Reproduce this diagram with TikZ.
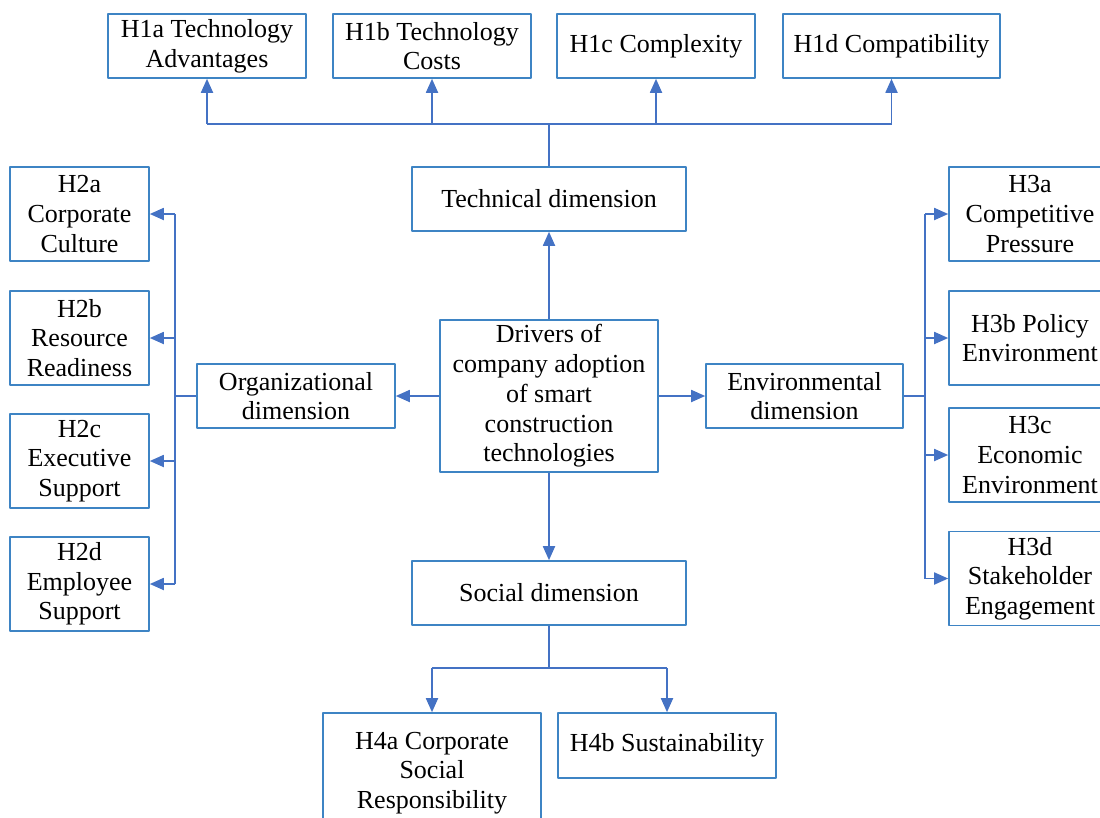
\documentclass[tikz,border=0pt]{standalone}
\usepackage{fontspec}
\setmainfont{Liberation Serif}
\usetikzlibrary{arrows.meta}
\definecolor{boxblue}{RGB}{62,132,196}
\definecolor{linkblue}{RGB}{68,114,196}
\begin{document}
\begin{tikzpicture}[
	x=1pt,y=-1pt,
	>={Triangle[length=14pt,width=12pt]},
	line join=round,
	box/.style={draw=boxblue,line width=1.6pt,align=center,inner sep=0pt,
		font=\fontsize{26}{29.7}\selectfont,text=black},
	link/.style={draw=linkblue,line width=1.8pt}
	]
	\useasboundingbox (0,0) rectangle (1100,817);
	\clip (0,0) rectangle (1100,817);
	% centre and the four dimensions
	\node[box,minimum width=218,minimum height=152] (drv) at (549,396)
		{Drivers of\\company adoption\\of smart\\construction\\technologies};
	\node[box,minimum width=274,minimum height=64] (tech) at (549,199) {Technical dimension};
	\node[box,minimum width=198,minimum height=64] (org) at (296,396) {Organizational\\dimension};
	\node[box,minimum width=197,minimum height=64] (env) at (804.5,396) {Environmental\\dimension};
	\node[box,minimum width=274,minimum height=64] (soc) at (549,593) {Social dimension};
	% H1
	\node[box,minimum width=198,minimum height=64] (h1a) at (207,46) {H1a Technology\\Advantages};
	\node[box,minimum width=198,minimum height=64] (h1b) at (432,46) {H1b Technology\\Costs};
	\node[box,minimum width=198,minimum height=64] (h1c) at (656,46) {H1c Complexity};
	\node[box,minimum width=217,minimum height=64] (h1d) at (891.5,46) {H1d Compatibility};
	% H2
	\node[box,minimum width=139,minimum height=94] (h2a) at (79.5,214) {H2a\\Corporate\\Culture};
	\node[box,minimum width=139,minimum height=94] (h2b) at (79.5,338) {H2b\\Resource\\Readiness};
	\node[box,minimum width=139,minimum height=94] (h2c) at (79.5,461) {H2c\\Executive\\Support};
	\node[box,minimum width=139,minimum height=94] (h2d) at (79.5,584) {H2d\\Employee\\Support};
	% H3
	\node[box,minimum width=162,minimum height=94] (h3a) at (1030,214) {H3a\\Competitive\\Pressure};
	\node[box,minimum width=162,minimum height=94] (h3b) at (1030,338) {H3b Policy\\Environment};
	\node[box,minimum width=162,minimum height=94] (h3c) at (1030,455) {H3c\\Economic\\Environment};
	\node[box,minimum width=162,minimum height=94] (h3d) at (1030,578.5) {H3d\\Stakeholder\\Engagement};
	% H4
	\node[box,minimum width=218,minimum height=120] (h4a) at (432,773) {H4a Corporate\\Social\\Responsibility};
	\node[box,minimum width=218,minimum height=65] (h4b) at (667,745.5) {H4b Sustainability};
	% bus points
	\coordinate (techbus) at (549,124);
	\coordinate (orgbus) at (175,396);
	\coordinate (envbus) at (925,396);
	\coordinate (socbus) at (549,668);
	% links
	\begin{scope}[link]
		\draw[->] (drv.north) -- (tech.south);
		\draw[->] (drv.west) -- (org.east);
		\draw[->] (drv.east) -- (env.west);
		\draw[->] (drv.south) -- (soc.north);
		\draw (tech.north) -- (techbus);
		\draw (h1a.south |- techbus) -- (h1d.south |- techbus);
		\foreach \n in {h1a,h1b,h1c,h1d}
			\draw[->] (\n.south |- techbus) -- (\n.south);
		\draw (org.west) -- (orgbus);
		\draw (orgbus |- h2a) -- (orgbus |- h2d);
		\foreach \n in {h2a,h2b,h2c,h2d}
			\draw[->] (orgbus |- \n) -- (\n.east);
		\draw (env.east) -- (envbus);
		\draw (envbus |- h3a) -- (envbus |- h3d);
		\foreach \n in {h3a,h3b,h3c,h3d}
			\draw[->] (envbus |- \n) -- (\n.west);
		\draw (soc.south) -- (socbus);
		\draw (h4a.north |- socbus) -- (h4b.north |- socbus);
		\foreach \n in {h4a,h4b}
			\draw[->] (\n.north |- socbus) -- (\n.north);
	\end{scope}
\end{tikzpicture}
\end{document}
